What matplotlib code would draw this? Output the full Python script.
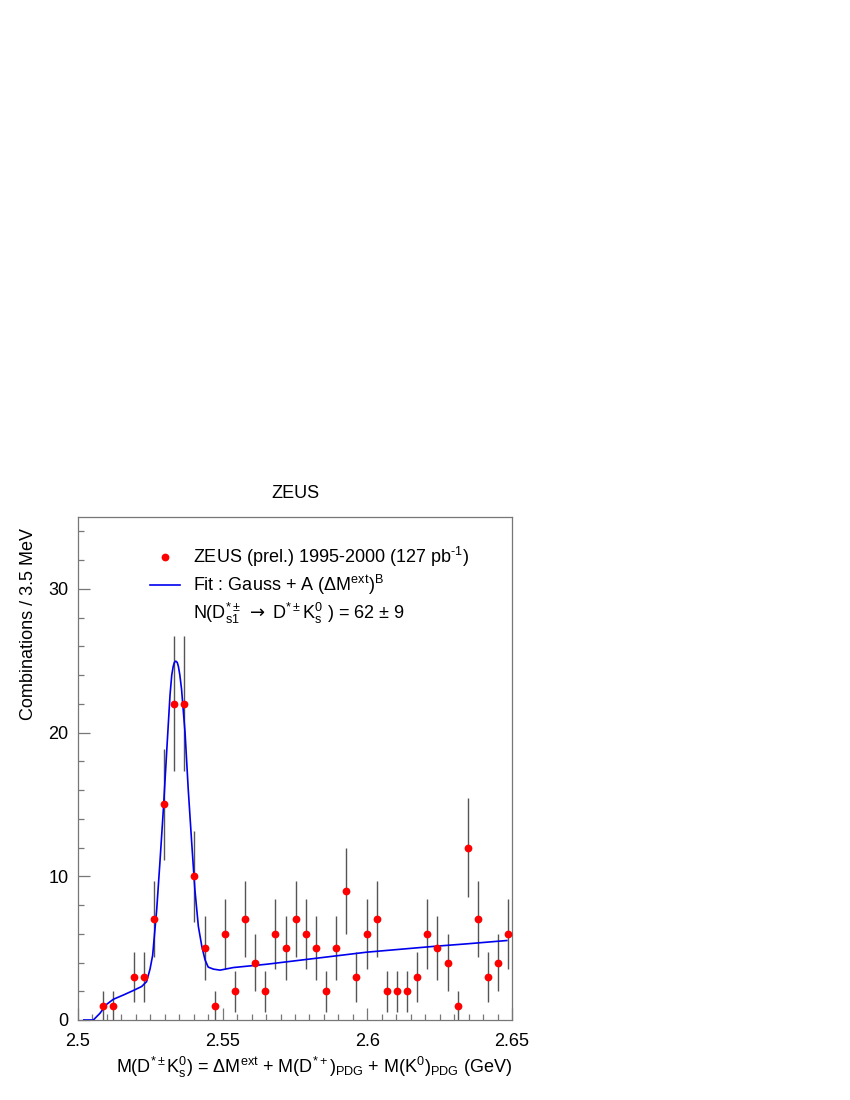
import numpy as np
import matplotlib
matplotlib.use("Agg")
import matplotlib.pyplot as plt
from matplotlib.lines import Line2D
from matplotlib.ticker import MultipleLocator, FixedLocator, FixedFormatter

plt.rcParams['font.family'] = ['Liberation Sans', 'DejaVu Sans']
plt.rcParams['mathtext.fontset'] = 'custom'
plt.rcParams['mathtext.rm'] = 'Liberation Sans'
plt.rcParams['mathtext.it'] = 'Liberation Sans:italic'
plt.rcParams['mathtext.sf'] = 'DejaVu Sans'
plt.rcParams['mathtext.default'] = 'regular'

# ---- data (bin centres in GeV, counts per 3.5 MeV) ----
mass = [2.50875, 2.51225, 2.51925, 2.52275, 2.52625, 2.52975, 2.53325,
        2.53675, 2.54025, 2.54375, 2.54725, 2.55075, 2.55425, 2.55775,
        2.56125, 2.56475, 2.56825, 2.57175, 2.57525, 2.57875, 2.58225,
        2.58575, 2.58925, 2.59275, 2.59625, 2.59975, 2.60325, 2.60675,
        2.61025, 2.61375, 2.61725, 2.62075, 2.62425, 2.62775, 2.63125,
        2.63475, 2.63825, 2.64175, 2.64525, 2.64875]
counts = [1, 1, 3, 3, 7, 15, 22,
          22, 10, 5, 1, 6, 2, 7,
          4, 2, 6, 5, 7, 6, 5,
          2, 5, 9, 3, 6, 7, 2,
          2, 2, 3, 6, 5, 4, 1,
          12, 7, 3, 4, 6]

# fit curve
fit_x = [2.5020, 2.5053, 2.5076, 2.5099, 2.5122, 2.5157, 2.5191, 2.5220,
         2.5237, 2.5249, 2.5258, 2.5272, 2.5283, 2.5295, 2.5307, 2.5318,
         2.5324, 2.5329, 2.5333, 2.5338, 2.5343, 2.5347, 2.5352, 2.5358,
         2.5370, 2.5381, 2.5393, 2.5404, 2.5416, 2.5428, 2.5439, 2.5450,
         2.5468, 2.5491, 2.5537, 2.5652, 2.5825, 2.5998, 2.6228, 2.6344,
         2.6482]
fit_y = [0.0, 0.0, 0.47, 1.09, 1.44, 1.74, 2.05, 2.33,
         2.67, 3.55, 4.5, 7.68, 10.93, 14.65, 18.84, 22.6,
         24.0, 24.6, 24.88, 24.97, 24.88, 24.6, 24.0, 23.0,
         20.0, 16.05, 12.33, 9.07, 6.51, 5.12, 4.19, 3.68,
         3.54, 3.47, 3.65, 3.88, 4.30, 4.72, 5.12, 5.30,
         5.53]

xticks = [2.5, 2.55, 2.6, 2.65]
xtick_labels = ["2.5", "2.55", "2.6", "2.65"]
yticks = [0, 10, 20, 30]
ytick_labels = ["0", "10", "20", "30"]

title = "ZEUS"
xlabel = (r"M(D$^{*\pm}$K$_{s}^{0}$) = $\Delta$M$^{ext}$ + M(D$^{*+}$)$_{PDG}$"
          r" + M(K$^{0}$)$_{PDG}$ (GeV)")
ylabel = "Combinations / 3.5 MeV"
leg_data = "ZEUS (prel.) 1995-2000 (127 pb$^{\u2010 1}$)"
leg_fit = r"Fit : Gauss + A ($\Delta$M$^{ext}$)$^{B}$"
leg_n = r"N(D$_{s1}^{*\pm}$ $\mathsf{\rightarrow}$ D$^{*\pm}$K$_{s}^{0}$ ) = 62 $\pm$ 9"

FS = 13
frame_col = '#777777'

fig = plt.figure(figsize=(8.5, 11), dpi=100)
ax = fig.add_axes([78 / 850, 80 / 1100, 434 / 850, 503 / 1100])

ax.errorbar(mass, counts, yerr=np.sqrt(counts), fmt='none',
            ecolor='#555555', elinewidth=1.0, capsize=0, zorder=2)
ax.plot(fit_x, fit_y, color='#0000ee', lw=1.2, zorder=3)
ax.plot(mass, counts, 'o', color='#ff0000', ms=5.6, mec='none', zorder=4)

ax.set_xlim(2.5, 2.65)
ax.set_ylim(0, 35)

ax.xaxis.set_major_locator(FixedLocator(xticks))
ax.xaxis.set_major_formatter(FixedFormatter(xtick_labels))
ax.xaxis.set_minor_locator(MultipleLocator(0.005))
ax.yaxis.set_major_locator(FixedLocator(yticks))
ax.yaxis.set_major_formatter(FixedFormatter(ytick_labels))
ax.yaxis.set_minor_locator(MultipleLocator(2))

ax.tick_params(which='both', direction='in', top=False, right=False,
               color=frame_col, labelsize=FS)
ax.tick_params(which='major', length=8.5, width=0.9)
ax.tick_params(which='minor', length=4.3, width=0.9)
ax.tick_params(axis='x', which='major', pad=9)
ax.tick_params(axis='y', which='major', pad=7)
for sp in ax.spines.values():
    sp.set_color(frame_col)
    sp.set_linewidth(0.9)

ax.set_title(title, fontsize=FS, pad=14)
ax.set_xlabel(xlabel, fontsize=FS, loc='right')
ax.set_ylabel(ylabel, fontsize=FS)
ax.yaxis.set_label_coords(-0.095, 0.787)
ax.yaxis.label.set_horizontalalignment('center')

handles = [Line2D([], [], ls='none', marker='o', color='#ff0000', ms=5.6, mec='none'),
           Line2D([], [], color='#0000ee', lw=1.2),
           Line2D([], [], ls='none')]
leg = ax.legend(handles, [leg_data, leg_fit, leg_n], loc='upper left',
                bbox_to_anchor=(0.166, 0.944), frameon=False, fontsize=FS,
                handlelength=1.67, handletextpad=0.72, borderpad=0,
                borderaxespad=0, labelspacing=0.22, numpoints=1)

fig.savefig("out.png", dpi=100)
